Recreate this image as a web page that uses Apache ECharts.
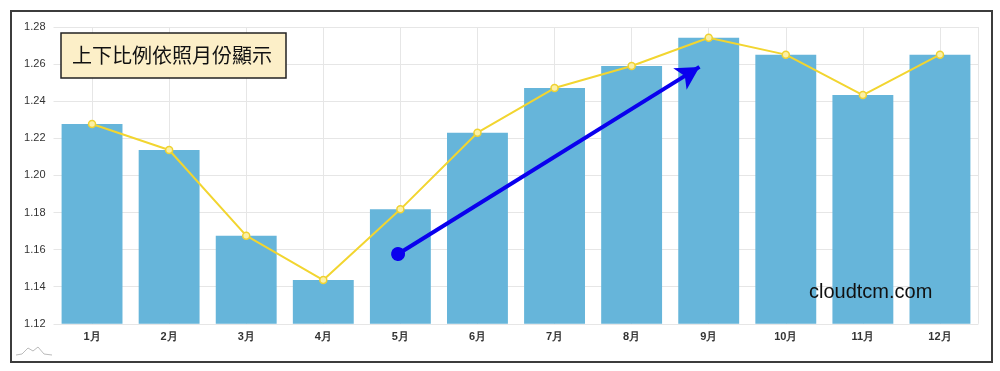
<!DOCTYPE html>
<html>
<head>
<meta charset="utf-8">
<script src="https://cdn.jsdelivr.net/npm/echarts@6/dist/echarts.min.js"></script>
<style>html,body{margin:0;padding:0;background:#fff;}#c{width:1000px;height:371px;}</style>
</head>
<body>
<div id="c"></div>
<script>
const categories = ['1月','2月','3月','4月','5月','6月','7月','8月','9月','10月','11月','12月'];
const barValues  = [1.2277, 1.2137, 1.1675, 1.1436, 1.1817, 1.2230, 1.2471, 1.2590, 1.2742, 1.2651, 1.2433, 1.2651];
const lineValues = [1.2277, 1.2137, 1.1675, 1.1436, 1.1817, 1.2230, 1.2471, 1.2590, 1.2742, 1.2651, 1.2433, 1.2651];
const yTicks = { min: 1.12, max: 1.28, interval: 0.02 };
const titleText = '上下比例依照月份顯示';
const watermark = 'cloudtcm.com';
// arrow annotation: start / end in (category index, value)
const arrowStart = [3.97, 1.1576];
const arrowEnd = [7.88, 1.2585];

const halfCats = [];
for (let i = 0; i < categories.length * 2; i++) halfCats.push('');

const chart = echarts.init(document.getElementById('c'), null, { renderer: 'canvas' });
chart.setOption({
  animation: false,
  backgroundColor: '#fff',
  title: [{
    text: titleText,
    left: 61, top: 33,
    backgroundColor: '#fcefc8',
    borderColor: '#222',
    borderWidth: 1.5,
    padding: [10, 14, 11, 11],
    textStyle: { fontFamily: 'Noto Sans CJK TC', fontSize: 20, fontWeight: 'normal', color: '#111', lineHeight: 24 }
  }, {
    text: watermark,
    left: 809, top: 282,
    padding: 0,
    textStyle: { fontFamily: 'Liberation Sans', fontSize: 20, fontWeight: 'normal', color: '#111' }
  }],
  grid: { left: 53.5, right: 21.5, top: 27, bottom: 47.2 },
  xAxis: [{
    type: 'category',
    data: categories,
    axisLine: { show: false },
    axisTick: { show: false },
    axisLabel: { fontSize: 11, color: '#333', fontWeight: 'bold', margin: 8, fontFamily: 'Liberation Sans' },
    splitLine: { show: false }
  }, {
    type: 'category',
    data: halfCats,
    show: true,
    position: 'bottom',
    axisLine: { show: false }, axisTick: { show: false }, axisLabel: { show: false },
    splitLine: { show: true, interval: function (idx) { return idx % 2 === 1; }, lineStyle: { color: '#e6e6e6', width: 1 } }
  }, {
    type: 'value', min: -0.5, max: 11.5, show: false
  }],
  yAxis: {
    type: 'value',
    min: yTicks.min, max: yTicks.max, interval: yTicks.interval,
    axisLine: { show: false }, axisTick: { show: false },
    axisLabel: { fontSize: 11, color: '#333', margin: 8, fontFamily: 'Liberation Sans', formatter: v => v.toFixed(2) },
    splitLine: { lineStyle: { color: '#e6e6e6', width: 1 } }
  },
  series: [{
    type: 'bar',
    data: barValues,
    xAxisIndex: 0,
    barCategoryGap: '21%',
    itemStyle: { color: '#66b5da' },
    z: 2
  }, {
    type: 'line',
    data: lineValues,
    xAxisIndex: 0,
    symbol: 'circle',
    symbolSize: 7,
    lineStyle: { color: '#f2d530', width: 2 },
    itemStyle: { color: '#fbf0a6', borderColor: '#efd232', borderWidth: 1.5 },
    z: 3
  }, {
    type: 'line',
    xAxisIndex: 2,
    data: [],
    z: 4,
    markLine: {
      silent: true,
      animation: false,
      label: { show: false },
      lineStyle: { color: '#0a00ee', width: 4, type: 'solid' },
      data: [[
        { coord: arrowStart, symbol: 'circle', symbolSize: 14 },
        { coord: arrowEnd, symbol: 'arrow', symbolSize: [19, 23] }
      ]]
    }
  }],
  graphic: [{
    type: 'rect',
    shape: { x: 11, y: 11, width: 981, height: 351 },
    style: { fill: 'none', stroke: '#3c3c3c', lineWidth: 2 },
    silent: true
  }, {
    type: 'polyline',
    shape: { points: [[16, 355], [22, 354], [28, 348], [33, 351], [38, 347], [44, 354], [52, 355]] },
    style: { fill: 'none', stroke: '#bbbbbb', lineWidth: 1 },
    silent: true
  }]
});
</script>
</body>
</html>
